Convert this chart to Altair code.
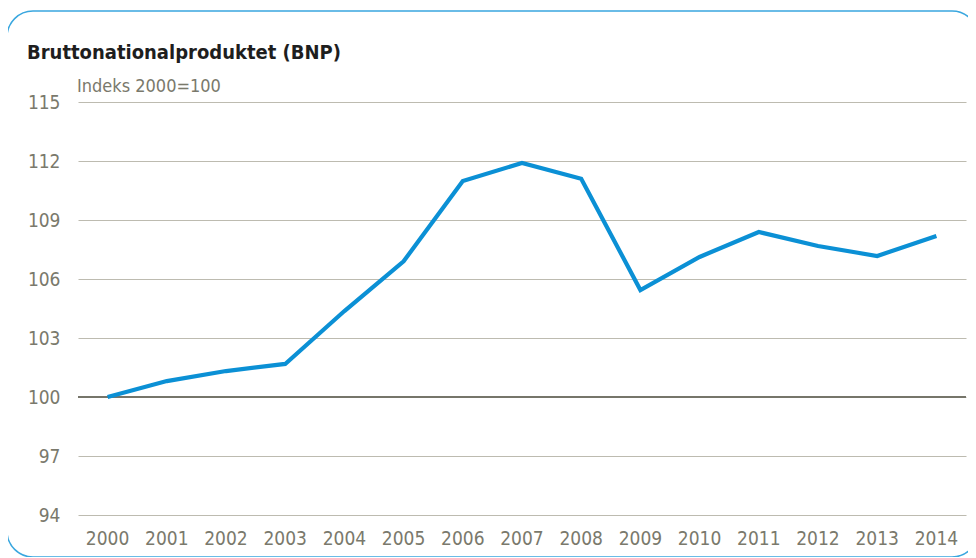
import altair as alt
import pandas as pd

years = [str(y) for y in range(2000, 2015)]
bnp = [100.0, 100.81, 101.32, 101.68, 104.37, 106.9, 110.98, 111.9, 111.1,
       105.44, 107.12, 108.39, 107.68, 107.17, 108.19]
y_ticks = [94, 97, 100, 103, 106, 109, 112, 115]
baseline = [100]

title_text = "Bruttonationalproduktet (BNP)"
subtitle_text = "Indeks 2000=100"

df = pd.DataFrame({"year": years, "value": bnp})
base_df = pd.DataFrame({"v": baseline})

FONT = "DejaVu Sans Condensed, Liberation Sans Narrow, sans-serif"
LABEL_COLOR = "#7a796c"
GRID_COLOR = "#bdbbb0"

x_enc = alt.X("year:O", sort=years, title=None,
              scale=alt.Scale(type="band", paddingInner=0, paddingOuter=0),
              axis=alt.Axis(labelAngle=0, labelFontSize=19, labelColor=LABEL_COLOR,
                            labelFont=FONT, ticks=False, domain=False, grid=False,
                            labelPadding=14))
y_enc = alt.Y("value:Q", title=None,
              scale=alt.Scale(domain=[94, 115], nice=False, zero=False),
              axis=alt.Axis(values=y_ticks, labelFontSize=19, labelColor=LABEL_COLOR,
                            labelFont=FONT, ticks=False, domain=False, labelPadding=18,
                            grid=True, gridColor=GRID_COLOR, gridWidth=1.2))

line = alt.Chart(df).mark_line(color="#0b90d5", strokeWidth=4.2, strokeJoin="miter").encode(
    x=x_enc, y=y_enc
)

rule = alt.Chart(base_df).mark_rule(color="#76756a", strokeWidth=2).encode(
    y=alt.Y("v:Q", scale=alt.Scale(domain=[94, 115], nice=False, zero=False))
)

frame = alt.Chart(base_df).mark_rect(
    fill=None, stroke="#3aa7df", strokeWidth=1.5, cornerRadius=26
).encode(
    x=alt.value(-71), x2=alt.value(900), y=alt.value(-91), y2=alt.value(455)
)

title = alt.Chart(base_df).mark_text(
    text=title_text, font=FONT, fontSize=20, fontWeight="bold", color="#1e1e1e",
    align="left", baseline="alphabetic"
).encode(x=alt.value(-51), y=alt.value(-43))

subtitle = alt.Chart(base_df).mark_text(
    text=subtitle_text, font=FONT, fontSize=18, color=LABEL_COLOR,
    align="left", baseline="alphabetic"
).encode(x=alt.value(-1), y=alt.value(-10))

chart = alt.layer(frame, rule, line, title, subtitle).properties(
    width=888, height=413,
    background="white",
    autosize=alt.AutoSizeParams(type="none"),
    padding={"left": 70, "top": 94, "right": 2, "bottom": 42},
).configure_view(stroke=None)

chart.save("out.html", embed_options={"renderer": "svg", "actions": False})
